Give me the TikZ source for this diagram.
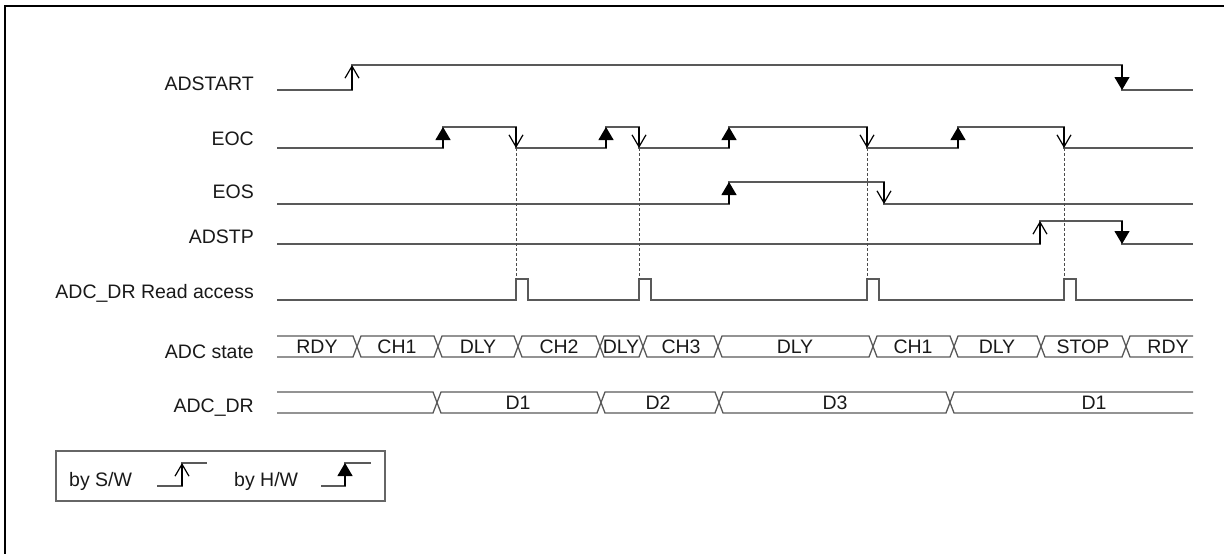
\documentclass[tikz,border=0pt]{standalone}
\usepackage{fontspec}
\setmainfont{Liberation Sans}
\usetikzlibrary{arrows.meta}
\tikzset{
  sig/.style={draw=black!65, line width=1.3pt},
  sw/.style={draw=black, line width=1.2pt, -{Straight Barb[length=12pt,width=14pt]}},
  hw/.style={draw=black, line width=1.2pt, -{Triangle[length=13pt,width=15pt]}},
  guide/.style={draw=black!70, line width=1pt, dash pattern=on 3pt off 2pt},
  lbl/.style={inner sep=0pt, anchor=base east, font=\fontsize{19.5pt}{23pt}\selectfont, text=black!90},
  val/.style={inner sep=0pt, anchor=base, font=\fontsize{19.5pt}{23pt}\selectfont, text=black!90},
}
\begin{document}
\begin{tikzpicture}[x=1pt,y=-1pt]
            \useasboundingbox (0,0) rectangle (1224,554);
            \draw[line width=2.5pt] (5,556) -- (5,6) -- (1226,6);
            \node[lbl] (adstart) at (254,90) {ADSTART};
            \node[lbl] (eoc) at (254,145) {EOC};
            \node[lbl] (eos) at (254,198) {EOS};
            \node[lbl] (adstp) at (254,243) {ADSTP};
            \node[lbl] (rdacc) at (254,298) {ADC\_DR Read access};
            \node[lbl] (state) at (254,358) {ADC state};
            \node[lbl] (dr) at (254,412) {ADC\_DR};
            \draw[sig] (277,90) -- (352,90) -- (352,65) -- (1122,65) -- (1122,90) -- (1193,90);
            \draw[sw] (352,90) -- (352,65);
            \draw[hw] (1122,65) -- (1122,90);
            \draw[sig] (277,148) -- (443,148) -- (443,127) -- (516,127) -- (516,148) -- (606,148) -- (606,127) -- (639,127) -- (639,148) -- (729,148) -- (729,127) -- (867,127) -- (867,148) -- (958,148) -- (958,127) -- (1064,127) -- (1064,148) -- (1193,148);
            \draw[hw] (443,148) -- (443,127);
            \draw[sw] (516,127) -- (516,148);
            \draw[hw] (606,148) -- (606,127);
            \draw[sw] (639,127) -- (639,148);
            \draw[hw] (729,148) -- (729,127);
            \draw[sw] (867,127) -- (867,148);
            \draw[hw] (958,148) -- (958,127);
            \draw[sw] (1064,127) -- (1064,148);
            \draw[sig] (277,204) -- (729,204) -- (729,182) -- (884,182) -- (884,204) -- (1193,204);
            \draw[hw] (729,204) -- (729,182);
            \draw[sw] (884,182) -- (884,204);
            \draw[sig] (277,244) -- (1040,244) -- (1040,221) -- (1122,221) -- (1122,244) -- (1193,244);
            \draw[sw] (1040,244) -- (1040,221);
            \draw[hw] (1122,221) -- (1122,244);
            \draw[sig] (277,300) -- (516,300) -- (516,279) -- (528,279) -- (528,300) -- (639,300) -- (639,279) -- (651,279) -- (651,300) -- (867,300) -- (867,279) -- (879,279) -- (879,300) -- (1064,300) -- (1064,279) -- (1076,279) -- (1076,300) -- (1193,300);
            \draw[guide] (516,148) -- (516,279);
            \draw[guide] (639,148) -- (639,279);
            \draw[guide] (867,148) -- (867,279);
            \draw[guide] (1064,148) -- (1064,279);
            \draw[sig] (277,336) -- (353,336) -- (357,346.5) -- (361,336) -- (434,336) -- (438,346.5) -- (442,336) -- (514,336) -- (518,346.5) -- (522,336) -- (596,336) -- (600,346.5) -- (604,336) -- (639,336) -- (643,346.5) -- (647,336) -- (714,336) -- (718,346.5) -- (722,336) -- (869,336) -- (873,346.5) -- (877,336) -- (950,336) -- (954,346.5) -- (958,336) -- (1037,336) -- (1041,346.5) -- (1045,336) -- (1122,336) -- (1126,346.5) -- (1130,336) -- (1193,336);
            \draw[sig] (277,357) -- (353,357) -- (357,346.5) -- (361,357) -- (434,357) -- (438,346.5) -- (442,357) -- (514,357) -- (518,346.5) -- (522,357) -- (596,357) -- (600,346.5) -- (604,357) -- (639,357) -- (643,346.5) -- (647,357) -- (714,357) -- (718,346.5) -- (722,357) -- (869,357) -- (873,346.5) -- (877,357) -- (950,357) -- (954,346.5) -- (958,357) -- (1037,357) -- (1041,346.5) -- (1045,357) -- (1122,357) -- (1126,346.5) -- (1130,357) -- (1193,357);
            \node[val] (s1) at (317,353) {RDY};
            \node[val] (s2) at (397,353) {CH1};
            \node[val] (s3) at (478,353) {DLY};
            \node[val] (s4) at (559,353) {CH2};
            \node[val] (s5) at (621,353) {DLY};
            \node[val] (s6) at (681,353) {CH3};
            \node[val] (s7) at (795,353) {DLY};
            \node[val] (s8) at (913,353) {CH1};
            \node[val] (s9) at (997,353) {DLY};
            \node[val] (s10) at (1083,353) {STOP};
            \node[val] (s11) at (1168,353) {RDY};
            \draw[sig] (277,392) -- (433,392) -- (437,402.5) -- (441,392) -- (597,392) -- (601,402.5) -- (605,392) -- (715,392) -- (719,402.5) -- (723,392) -- (946,392) -- (950,402.5) -- (954,392) -- (1193,392);
            \draw[sig] (277,413) -- (433,413) -- (437,402.5) -- (441,413) -- (597,413) -- (601,402.5) -- (605,413) -- (715,413) -- (719,402.5) -- (723,413) -- (946,413) -- (950,402.5) -- (954,413) -- (1193,413);
            \node[val] (d1) at (518,409) {D1};
            \node[val] (d2) at (658,409) {D2};
            \node[val] (d3) at (835,409) {D3};
            \node[val] (d4) at (1094,409) {D1};
            \draw[draw=black!60, line width=1.3pt] (56,451) rectangle (385,501);
            \node[val, anchor=base west] (bysw) at (69,486) {by S/W};
            \draw[sig] (157,486) -- (182,486) -- (182,463) -- (207,463);
            \draw[sw] (182,486) -- (182,463);
            \node[val, anchor=base west] (byhw) at (234,486) {by H/W};
            \draw[sig] (321,486) -- (345,486) -- (345,463) -- (371,463);
            \draw[hw] (345,486) -- (345,463);
            \end{tikzpicture}
\end{document}
